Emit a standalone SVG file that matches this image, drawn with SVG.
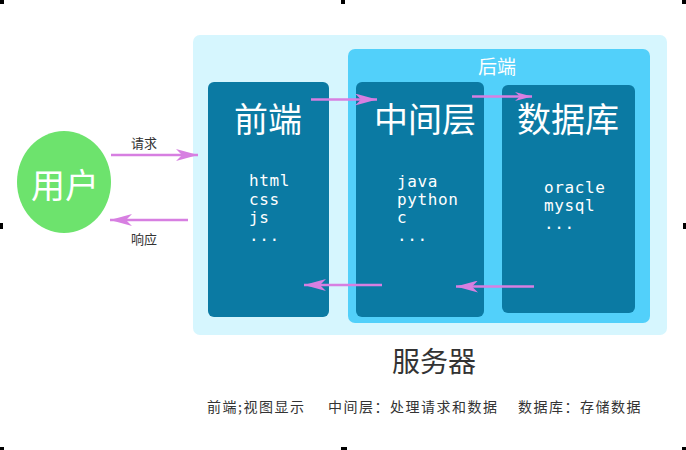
<svg xmlns="http://www.w3.org/2000/svg" width="686" height="450" viewBox="0 0 686 450">
<style>
.cjk{font-family:"Noto Sans CJK SC","Liberation Sans",sans-serif}
.title{font-size:34px;fill:#ffffff;text-anchor:middle}
.mono{font-family:"DejaVu Sans Mono","Liberation Mono",monospace;font-size:16px;fill:#ffffff;letter-spacing:0.6px}
.dark{fill:#0b7aa3}
.arrow{stroke:#d77fe1;stroke-width:2.4;fill:none}
.lbl{font-size:13px;fill:#333333;text-anchor:middle}
.cap{font-size:14px;fill:#333333;letter-spacing:1.5px}
.handle{fill:#000000}
</style>
<defs>
<marker id="ah" viewBox="0 -6 22 12" refX="22" refY="0" markerWidth="22" markerHeight="12" markerUnits="userSpaceOnUse" orient="auto">
<path d="M0,-6 L22,0 L0,6 L6,0 Z" fill="#d77fe1"/>
</marker>
<marker id="ahs" viewBox="0 -4.5 17 9" refX="17" refY="0" markerWidth="17" markerHeight="9" markerUnits="userSpaceOnUse" orient="auto">
<path d="M0,-4.5 L17,0 L0,4.5 L5,0 Z" fill="#d77fe1"/>
</marker>
</defs>
<rect width="686" height="450" fill="#ffffff"/>
<g id="server">
<rect x="193" y="35" width="474" height="300" rx="7" fill="#d6f6fe"/>
<text class="cjk" x="434" y="372" font-size="28" fill="#333333" text-anchor="middle">服务器</text>
</g>
<g id="backend">
<rect x="348" y="49" width="302" height="274" rx="7" fill="#52d0fa"/>
<text class="cjk" x="497" y="74" font-size="19" fill="#ffffff" text-anchor="middle">后端</text>
</g>
<g id="frontend">
<rect class="dark" x="208" y="82" width="121" height="235" rx="6"/>
<text class="cjk title" x="268" y="132">前端</text>
<text class="mono" x="249" y="186">html</text>
<text class="mono" x="249" y="205">css</text>
<text class="mono" x="249" y="223">js</text>
<text class="mono" x="249" y="241">...</text>
</g>
<g id="middle">
<rect class="dark" x="356" y="82" width="128" height="235" rx="6"/>
<text class="cjk title" x="425" y="132">中间层</text>
<text class="mono" x="397" y="187">java</text>
<text class="mono" x="397" y="205">python</text>
<text class="mono" x="397" y="223">c</text>
<text class="mono" x="397" y="241">...</text>
</g>
<g id="database">
<rect class="dark" x="502" y="85" width="133" height="228" rx="6"/>
<text class="cjk title" x="568" y="132">数据库</text>
<text class="mono" x="544" y="193">oracle</text>
<text class="mono" x="544" y="211">mysql</text>
<text class="mono" x="544" y="229">...</text>
</g>
<g id="user">
<ellipse cx="64" cy="182" rx="47" ry="51" fill="#6de36d"/>
<text class="cjk" x="65" y="198" font-size="34" fill="#ffffff" text-anchor="middle">用户</text>
</g>
<g id="connectors">
<line class="arrow" x1="111" y1="155" x2="198" y2="155" marker-end="url(#ah)"/>
<text class="cjk lbl" x="144" y="148">请求</text>
<line class="arrow" x1="188" y1="220" x2="110" y2="220" marker-end="url(#ah)"/>
<text class="cjk lbl" x="144" y="244">响应</text>
<line class="arrow" x1="311" y1="99.5" x2="377" y2="99.5" marker-end="url(#ah)"/>
<line class="arrow" x1="472" y1="96.5" x2="532" y2="96.5" marker-end="url(#ahs)"/>
<line class="arrow" x1="382" y1="285" x2="304" y2="285" marker-end="url(#ah)"/>
<line class="arrow" x1="534" y1="286.5" x2="456" y2="286.5" marker-end="url(#ah)"/>
</g>
<g id="caption">
<text class="cjk cap" x="207" y="412">前端;视图显示</text>
<text class="cjk cap" x="328" y="412">中间层：处理请求和数据</text>
<text class="cjk cap" x="518" y="412">数据库：存储数据</text>
</g>
<g id="handles">
<rect class="handle" x="0" y="0" width="4" height="4"/>
<rect class="handle" x="341" y="0" width="4" height="4"/>
<rect class="handle" x="682" y="0" width="4" height="4"/>
<rect class="handle" x="0" y="223" width="3" height="6"/>
<rect class="handle" x="683" y="223" width="3" height="6"/>
<rect class="handle" x="0" y="447" width="4" height="3"/>
<rect class="handle" x="341" y="447" width="6" height="3"/>
<rect class="handle" x="682" y="447" width="4" height="3"/>
</g>
</svg>
